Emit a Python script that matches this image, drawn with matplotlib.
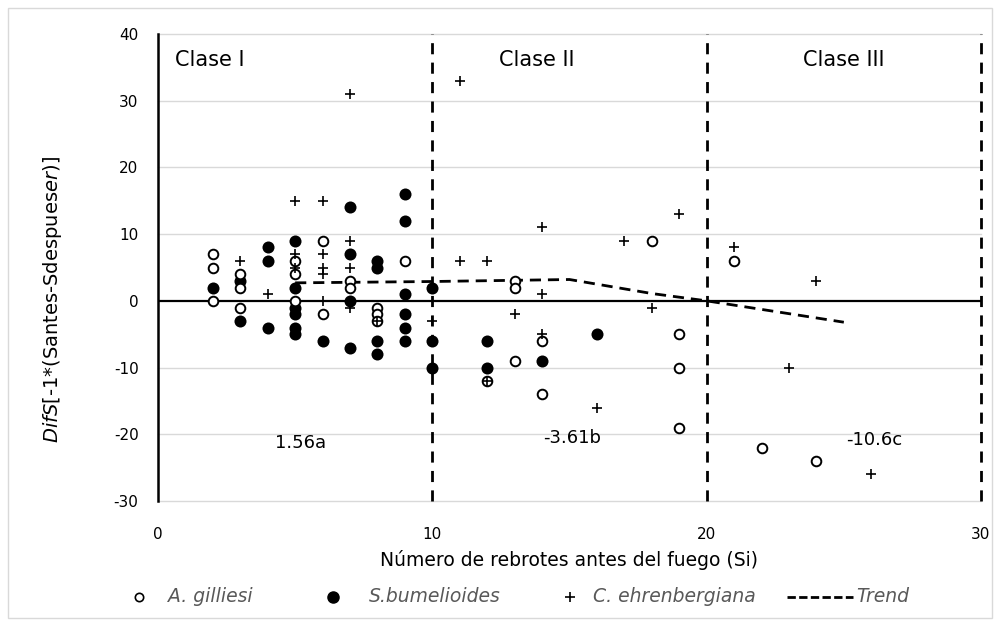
import matplotlib
matplotlib.use("Agg")
import matplotlib.pyplot as plt
from matplotlib.lines import Line2D
from matplotlib.patches import Rectangle

plt.rcParams['font.family'] = ['DejaVu Sans']
plt.rcParams['axes.unicode_minus'] = False
plt.rcParams['mathtext.fontset'] = 'dejavusans'

# A. gilliesi (open circles)
ag_x = [2, 2, 2, 3, 3, 3, 5, 5, 5, 6, 6, 7, 7, 8, 8, 8, 9, 12, 13, 13, 13,
        14, 14, 18, 19, 19, 19, 21, 22, 24]
ag_y = [7, 5, 0, 4, 2, -1, 6, 4, 0, 9, -2, 3, 2, -1, -2, -3, 6, -12, 3, 2, -9,
        -6, -14, 9, -5, -10, -19, 6, -22, -24]

# S. bumelioides (filled circles)
sb_x = [2, 3, 3, 4, 4, 4, 5, 5, 5, 5, 5, 5, 6, 7, 7, 7, 7, 8, 8, 8, 8,
        9, 9, 9, 9, 9, 9, 10, 10, 10, 12, 12, 14, 16]
sb_y = [2, 3, -3, 8, 6, -4, 9, 2, -1, -2, -4, -5, -6, 14, 7, 0, -7, 6, 5, -6, -8,
        16, 12, 1, -2, -4, -6, 2, -6, -10, -6, -10, -9, -5]

# C. ehrenbergiana (plus)
ce_x = [3, 4, 5, 5, 5, 6, 6, 6, 6, 6, 7, 7, 7, 7, 8, 10, 11, 11, 12, 12, 13,
        14, 14, 14, 16, 17, 18, 19, 21, 23, 24, 26]
ce_y = [6, 1, 15, 7, 5, 15, 7, 5, 4, 0, 31, 9, 5, -1, -3, -3, 33, 6, 6, -12, -2,
        11, 1, -5, -16, 9, -1, 13, 8, -10, 3, -26]

# Trend line
trend_x = [5, 10, 15, 18, 20, 25]
trend_y = [2.7, 2.9, 3.2, 1.1, 0.0, -3.2]

y_ticks = [-30, -20, -10, 0, 10, 20, 30, 40]
x_ticks = [0, 10, 20, 30]
class_bounds = [10, 20, 30]
class_labels = ["Clase I", "Clase II", "Clase III"]
class_label_x = [0.62, 12.43, 23.5]
mean_labels = ["1.56a", "-3.61b", "-10.6c"]
mean_label_x = [5.2, 15.1, 26.1]
mean_label_y = [-21.3, -20.6, -20.8]

legend_labels = ["A. gilliesi", "S.bumelioides", "C. ehrenbergiana", "Trend"]

W, H = 1000, 626
fig = plt.figure(figsize=(10, 6.26), dpi=100)


def fx(px):
    return px / W


def fy(py):
    return 1 - py / H


fig.add_artist(Rectangle((fx(8), fy(618)), fx(984), 610 / H, transform=fig.transFigure,
                         fill=False, edgecolor='#d9d9d9', linewidth=1))
ax = fig.add_axes([fx(158), fy(501), (981 - 158) / W, (501 - 34) / H])

ax.set_xlim(0, 30)
ax.set_ylim(-30, 40)
ax.set_yticks(y_ticks)
ax.set_xticks(x_ticks)
for yv in y_ticks:
    if yv != 0:
        ax.axhline(yv, color='#d9d9d9', linewidth=1, zorder=1, clip_on=False)
for s in ['top', 'right', 'bottom']:
    ax.spines[s].set_visible(False)
ax.spines['left'].set_linewidth(1.8)
ax.spines['left'].set_color('black')
ax.spines['left'].set_zorder(3)
ax.tick_params(length=0, labelsize=11, colors='black')
ax.tick_params(axis='x', pad=19)
ax.tick_params(axis='y', pad=14)
ax.axhline(0, color='black', linewidth=1.6, zorder=2)

for b in class_bounds:
    ax.axvline(b, color='black', linestyle=(0, (4, 3)), linewidth=2, zorder=2,
               clip_on=False)

ax.plot(trend_x, trend_y, color='black', linestyle=(0, (4, 2.5)), linewidth=2, zorder=3)

ax.scatter(sb_x, sb_y, s=75, c='black', marker='o', zorder=4, linewidths=0)
ax.scatter(ag_x, ag_y, s=48, facecolors='white', edgecolors='black', marker='o',
           linewidths=1.4, zorder=5)
ax.scatter(ce_x, ce_y, s=45, c='black', marker='+', linewidths=1.2, zorder=6)

for xl, lab in zip(class_label_x, class_labels):
    ax.text(xl, 36.1, lab, fontsize=15, ha='left', va='center', color='black')
for xl, yl, lab in zip(mean_label_x, mean_label_y, mean_labels):
    ax.text(xl, yl, lab, fontsize=13, ha='center', va='center', color='black')

fig.text(fx(569.5), fy(560), "Número de rebrotes antes del fuego (Si)", fontsize=13.5,
         ha='center', va='center')
fig.text(fx(53), fy(300), r"$\it{DifS}$[-1*(Santes-Sdespues$\it{er}$)]", fontsize=14,
         ha='center', va='center', rotation=90)

# manual legend (layout positions in pixels)
ly = 597
fig.add_artist(Line2D([fx(139)], [fy(ly)], marker='o', linestyle='none',
                      markerfacecolor='white', markeredgecolor='black',
                      markersize=6, markeredgewidth=1.2, transform=fig.transFigure))
fig.add_artist(Line2D([fx(333)], [fy(ly)], marker='o', linestyle='none',
                      color='black', markersize=8, transform=fig.transFigure))
fig.add_artist(Line2D([fx(570)], [fy(ly)], marker='+', linestyle='none',
                      color='black', markersize=7, markeredgewidth=1.2,
                      transform=fig.transFigure))
fig.add_artist(Line2D([fx(787), fx(853)], [fy(ly), fy(ly)], color='black',
                      linestyle=(0, (3, 1.2)), linewidth=2, transform=fig.transFigure))
for px, lab in zip([168, 369, 593, 856], legend_labels):
    fig.text(fx(px), fy(ly), lab, fontsize=13.5, style='italic', color='#595959',
             ha='left', va='center')

fig.savefig("out.png", dpi=100)
